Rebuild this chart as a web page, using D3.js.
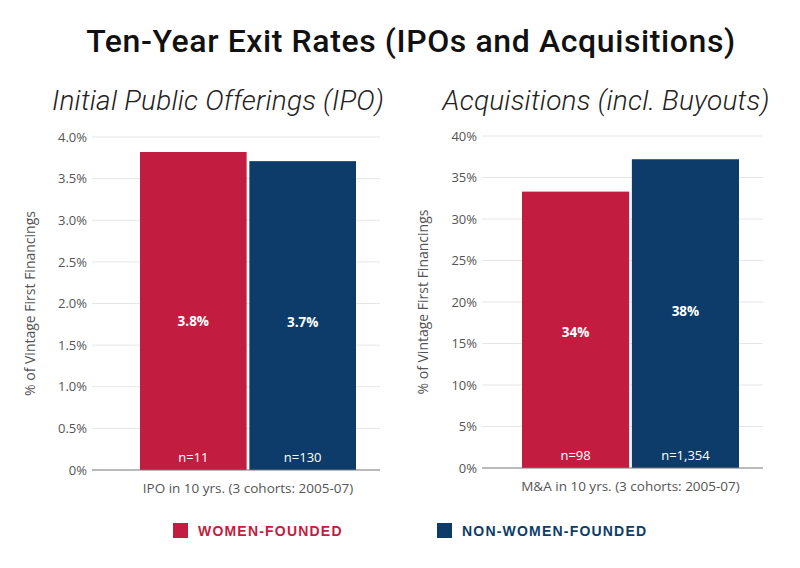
<!DOCTYPE html>
<html lang="en">
<head>
<meta charset="UTF-8">
<title>Ten-Year Exit Rates</title>
<script src="https://cdn.jsdelivr.net/npm/d3@7"></script>
<style>
    body { margin: 0; background: #fff; }
    svg { display: block; font-family: "Open Sans", Arial, sans-serif; }
    .title { font-family: Roboto, sans-serif; font-weight: 500; font-size: 32px; letter-spacing: 0.6px; fill: #111; }
    .subtitle { font-family: Roboto, sans-serif; font-weight: 300; font-style: italic; font-size: 28px; letter-spacing: 0.2px; fill: #222; }
    .tick text { font-family: "Open Sans", sans-serif; font-size: 13px; fill: #555; }
    .ytitle { font-size: 14px; fill: #555; }
    .xtitle { font-size: 13.5px; fill: #555; }
    .val { font-size: 13.5px; font-weight: bold; fill: #fff; }
    .nlab { font-size: 13px; fill: #fff; }
    .leg { font-family: "Liberation Sans", Arial, sans-serif; font-size: 14px; font-weight: bold; letter-spacing: 1.2px; }
</style>
</head>
<body>
<svg width="800" height="568"></svg>
<script>
    // groups shown side by side
    const groups = ["Women-Founded", "Non-Women-Founded"];
    const colors = ["#c21d40", "#0d3c6a"];

    // left panel: IPO rates (%)
    const ipoValues = [3.82, 3.71];
    const ipoLabels = ["3.8%", "3.7%"];
    const ipoCounts = ["n=11", "n=130"];
    const ipoTicks = [0, 0.5, 1, 1.5, 2, 2.5, 3, 3.5, 4];

    // right panel: M&A rates (%)
    const maValues = [33.3, 37.2];
    const maLabels = ["34%", "38%"];
    const maCounts = ["n=98", "n=1,354"];
    const maTicks = [0, 5, 10, 15, 20, 25, 30, 35, 40];

    const svg = d3.select("svg");

    svg.append("text").attr("class", "title")
        .attr("x", 411).attr("y", 52).attr("text-anchor", "middle")
        .text("Ten-Year Exit Rates (IPOs and Acquisitions)");

    function panel(opt) {
        const y = d3.scaleLinear().domain([0, opt.max]).range([opt.bottom, opt.top]);
        const x = d3.scaleBand().domain(groups).range([opt.barL, opt.barR]).paddingInner(0.025);
        const g = svg.append("g");

        g.append("text").attr("class", "subtitle")
            .attr("x", opt.subX).attr("y", 110).attr("text-anchor", "middle")
            .text(opt.subtitle);

        // grid lines
        g.selectAll(".grid").data(opt.ticks.slice(1)).enter()
            .append("line")
            .attr("x1", opt.left).attr("x2", opt.right)
            .attr("y1", d => y(d)).attr("y2", d => y(d))
            .attr("stroke", "#e6e6e6").attr("stroke-width", 1);

        const axis = d3.axisLeft(y).tickValues(opt.ticks).tickSize(0).tickPadding(5)
            .tickFormat(opt.fmt);
        g.append("g").attr("transform", `translate(${opt.left},0)`).call(axis)
            .call(s => s.select(".domain").remove());

        g.selectAll(".bar").data(groups).enter()
            .append("rect")
            .attr("x", d => x(d))
            .attr("width", x.bandwidth())
            .attr("y", (d, i) => y(opt.values[i]))
            .attr("height", (d, i) => opt.bottom - y(opt.values[i]))
            .attr("fill", (d, i) => colors[i]);

        g.selectAll(".val").data(groups).enter()
            .append("text").attr("class", "val")
            .attr("x", d => x(d) + x.bandwidth() / 2)
            .attr("y", (d, i) => (y(opt.values[i]) + opt.bottom) / 2 + opt.valShift[i])
            .attr("text-anchor", "middle")
            .text((d, i) => opt.labels[i]);

        g.selectAll(".nlab").data(groups).enter()
            .append("text").attr("class", "nlab")
            .attr("x", d => x(d) + x.bandwidth() / 2)
            .attr("y", opt.bottom - 8)
            .attr("text-anchor", "middle")
            .text((d, i) => opt.counts[i]);

        // baseline
        g.append("line")
            .attr("x1", opt.left).attr("x2", opt.right)
            .attr("y1", opt.bottom).attr("y2", opt.bottom)
            .attr("stroke", "#777").attr("stroke-width", 1.2);

        g.append("text").attr("class", "xtitle")
            .attr("x", (opt.barL + opt.barR) / 2).attr("y", opt.bottom + 23)
            .attr("text-anchor", "middle").text(opt.xtitle);

        g.append("text").attr("class", "ytitle")
            .attr("transform", `translate(${opt.ytX},${(opt.top + opt.bottom) / 2}) rotate(-90)`)
            .attr("text-anchor", "middle").text("% of Vintage First Financings");
    }

    panel({
        values: ipoValues, labels: ipoLabels, counts: ipoCounts, ticks: ipoTicks, max: 4,
        fmt: d => d === 0 ? "0%" : d.toFixed(1) + "%",
        top: 137, bottom: 470, left: 92, right: 380, barL: 140, barR: 356,
        subX: 218, subtitle: "Initial Public Offerings (IPO)",
        xtitle: "IPO in 10 yrs. (3 cohorts: 2005-07)", ytX: 35, valShift: [15, 11]
    });

    panel({
        values: maValues, labels: maLabels, counts: maCounts, ticks: maTicks, max: 40,
        fmt: d => d + "%",
        top: 136, bottom: 468, left: 482, right: 763, barL: 522, barR: 739,
        subX: 606, subtitle: "Acquisitions (incl. Buyouts)",
        xtitle: "M&A in 10 yrs. (3 cohorts: 2005-07)", ytX: 428, valShift: [7, 2]
    });

    // legend
    const legX = [173, 437];
    const leg = svg.selectAll(".legitem").data(groups).enter()
        .append("g").attr("transform", (d, i) => `translate(${legX[i]},523)`);
    leg.append("rect").attr("width", 15).attr("height", 15).attr("fill", (d, i) => colors[i]);
    leg.append("text").attr("class", "leg")
        .attr("x", 25).attr("y", 13)
        .attr("fill", (d, i) => colors[i])
        .text(d => d.toUpperCase());
</script>
</body>
</html>
